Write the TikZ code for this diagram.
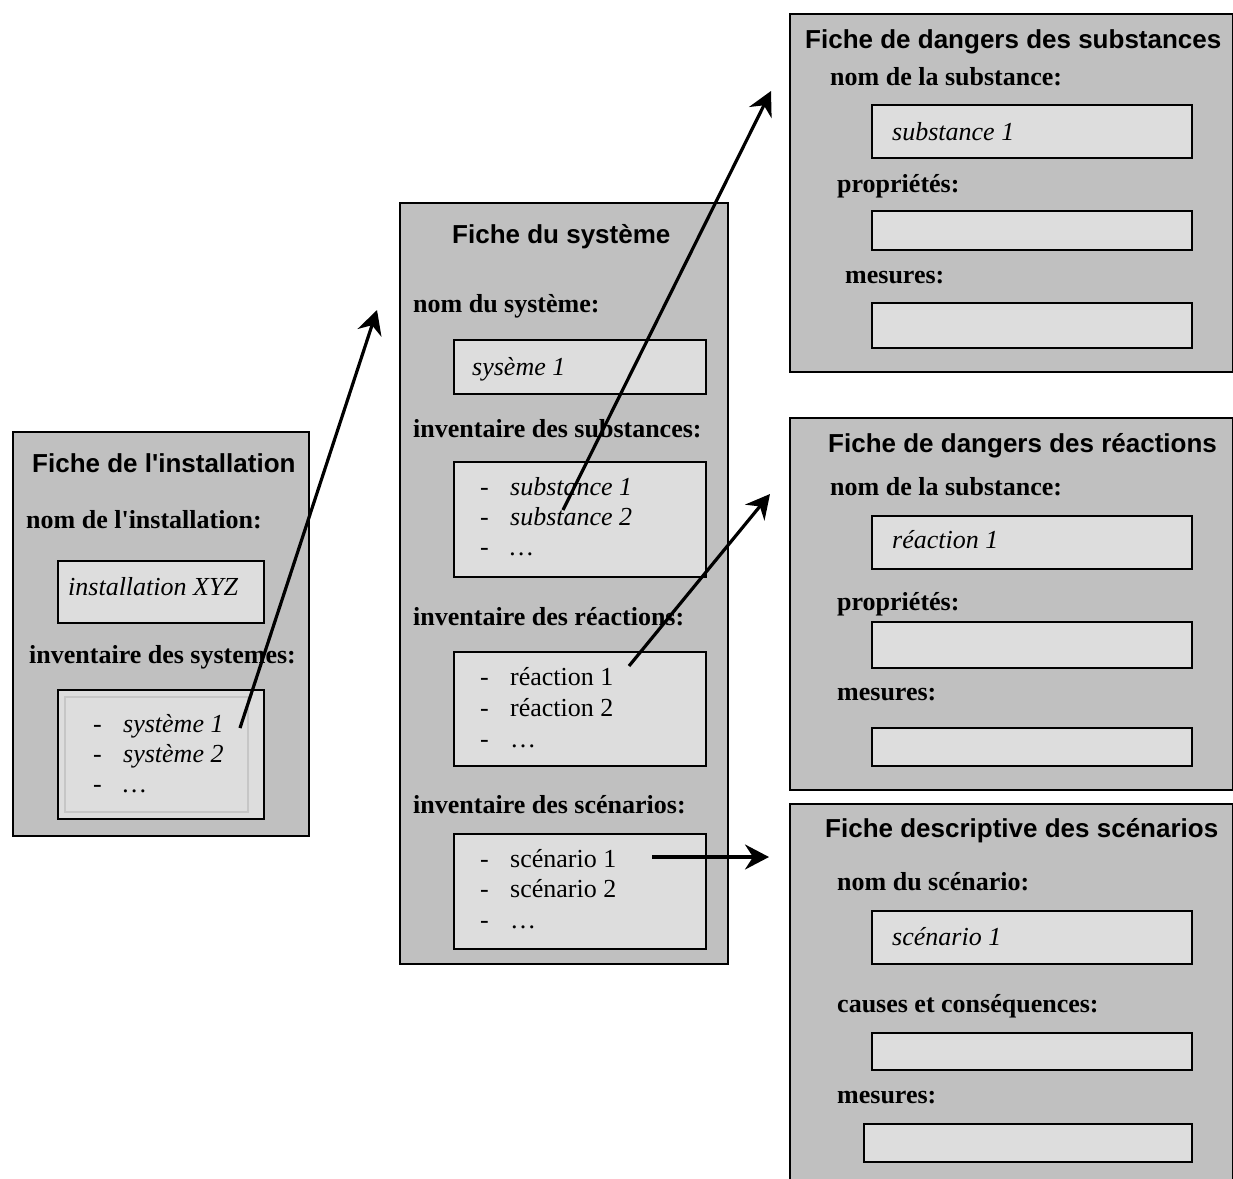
\documentclass[tikz,border=0pt]{standalone}
\usepackage{fontspec}
\setmainfont{Liberation Serif}
\newfontfamily\titrefont{Liberation Sans}
\usetikzlibrary{arrows.meta}
\definecolor{fichegris}{HTML}{C0C0C0}
\definecolor{boitegris}{HTML}{DDDDDD}
\tikzset{fiche/.style={draw,fill=fichegris,line width=2pt,anchor=north west,inner sep=0pt},
    boite/.style={draw,fill=boitegris,line width=2.2pt,anchor=north west,inner sep=0pt},
    titre/.style={anchor=base west,inner sep=0pt,font=\titrefont\bfseries\fontsize{26}{30}\selectfont},
    champ/.style={anchor=base west,inner sep=0pt,font=\bfseries\fontsize{26}{30}\selectfont},
    valeur/.style={anchor=base west,inner sep=0pt,font=\itshape\fontsize{26}{30}\selectfont},
    ligne/.style={anchor=base west,inner sep=0pt,font=\fontsize{26}{30}\selectfont},
    fleche/.style={line width=3.2pt,-{Stealth[length=24pt,width=25pt,inset=8pt]}}}
\newcommand\tiret{\makebox[30pt][l]{-}}

\begin{document}
\begin{tikzpicture}[x=1pt,y=-1pt]
        \useasboundingbox (0,0) rectangle (1233,1178);

        % fiche de l'installation
        \node[fiche,minimum width=296pt,minimum height=404pt] (inst) at (12,431) {};
        \node[titre] (inst-t) at (32,472) {Fiche de l'installation};
        \node[champ] (inst-l1) at (26,528) {nom de l\textquotesingle installation:};
        \node[boite,minimum width=206pt,minimum height=62pt] (inst-nom) at (57,560) {};
        \node[valeur] (inst-v) at (68,595) {installation XYZ};
        \node[champ] (inst-l2) at (29,663) {inventaire des systemes:};
        \node[boite,minimum width=206pt,minimum height=129pt] (inst-inv) at (57,689) {};
        \draw[gray!45,line width=1.5pt] (65,697) rectangle (248,812);
        \node[ligne] (inst-1) at (93,732) {\tiret\textit{système 1}};
        \node[ligne] (inst-2) at (93,762) {\tiret\textit{système 2}};
        \node[ligne] (inst-3) at (93,792) {\tiret\textit{…}};

        % fiche du systeme
        \node[fiche,minimum width=328pt,minimum height=761pt] (sys) at (399,202) {};
        \node[titre] (sys-t) at (452,243) {Fiche du système};
        \node[champ] (sys-l1) at (413,312) {nom du système:};
        \node[boite,minimum width=252pt,minimum height=54pt] (sys-nom) at (453,339) {};
        \node[valeur] (sys-v) at (472,375) {sysème 1};
        \node[champ] (sys-l2) at (413,437) {inventaire des substances:};
        \node[boite,minimum width=252pt,minimum height=115pt] (sys-sub) at (453,461) {};
        \node[ligne] (sub-1) at (480,495) {\tiret\textit{substance 1}};
        \node[ligne] (sub-2) at (480,525) {\tiret\textit{substance 2}};
        \node[ligne] (sub-3) at (480,555) {\tiret\textit{…}};
        \node[champ] (sys-l3) at (413,625) {inventaire des réactions:};
        \node[boite,minimum width=252pt,minimum height=114pt] (sys-rea) at (453,651) {};
        \node[ligne] (rea-1) at (480,685) {\tiret réaction 1};
        \node[ligne] (rea-2) at (480,716) {\tiret réaction 2};
        \node[ligne] (rea-3) at (480,747) {\tiret …};
        \node[champ] (sys-l4) at (413,813) {inventaire des scénarios:};
        \node[boite,minimum width=252pt,minimum height=115pt] (sys-sce) at (453,833) {};
        \node[ligne] (sce-1) at (480,867) {\tiret scénario 1};
        \node[ligne] (sce-2) at (480,897) {\tiret scénario 2};
        \node[ligne] (sce-3) at (480,928) {\tiret …};

        % fiche de dangers des substances
        \node[fiche,minimum width=443pt,minimum height=358pt] (fsub) at (789,13) {};
        \node[titre] (fsub-t) at (805,48) {Fiche de dangers des substances};
        \node[champ] (fsub-l1) at (830,85) {nom de la substance:};
        \node[boite,minimum width=320pt,minimum height=53pt] (fsub-nom) at (871,104) {};
        \node[valeur] (fsub-v) at (892,140) {substance 1};
        \node[champ] (fsub-l2) at (837,192) {propriétés:};
        \node[boite,minimum width=320pt,minimum height=39pt] (fsub-pro) at (871,210) {};
        \node[champ] (fsub-l3) at (845,283) {mesures:};
        \node[boite,minimum width=320pt,minimum height=45pt] (fsub-mes) at (871,302) {};

        % fiche de dangers des reactions
        \node[fiche,minimum width=443pt,minimum height=372pt] (frea) at (789,417) {};
        \node[titre] (frea-t) at (828,452) {Fiche de dangers des réactions};
        \node[champ] (frea-l1) at (830,495) {nom de la substance:};
        \node[boite,minimum width=320pt,minimum height=53pt] (frea-nom) at (871,515) {};
        \node[valeur] (frea-v) at (892,548) {réaction 1};
        \node[champ] (frea-l2) at (837,610) {propriétés:};
        \node[boite,minimum width=320pt,minimum height=46pt] (frea-pro) at (871,621) {};
        \node[champ] (frea-l3) at (837,700) {mesures:};
        \node[boite,minimum width=320pt,minimum height=38pt] (frea-mes) at (871,727) {};

        % fiche descriptive des scenarios
        \node[fiche,minimum width=443pt,minimum height=400pt] (fsce) at (789,803) {};
        \node[titre] (fsce-t) at (825,837) {Fiche descriptive des scénarios};
        \node[champ] (fsce-l1) at (837,890) {nom du scénario:};
        \node[boite,minimum width=320pt,minimum height=53pt] (fsce-nom) at (871,910) {};
        \node[valeur] (fsce-v) at (892,945) {scénario 1};
        \node[champ] (fsce-l2) at (837,1012) {causes et conséquences:};
        \node[boite,minimum width=320pt,minimum height=37pt] (fsce-cau) at (871,1032) {};
        \node[champ] (fsce-l3) at (837,1103) {mesures:};
        \node[boite,minimum width=328pt,minimum height=38pt] (fsce-mes) at (863,1123) {};

        % fleches
        \coordinate (d1) at (240,728);  \coordinate (f1) at (377,310);
        \coordinate (d2) at (563,510);  \coordinate (f2) at (771,91);
        \coordinate (d3) at (629,666);  \coordinate (f3) at (770,494);
        \coordinate (d4) at (652,857);  \coordinate (f4) at (769,857);
        \draw[fleche] (d1) -- (f1);
        \draw[fleche] (d2) -- (f2);
        \draw[fleche] (d3) -- (f3);
        \draw[fleche] (d4) -- (f4);
\end{tikzpicture}
\end{document}
